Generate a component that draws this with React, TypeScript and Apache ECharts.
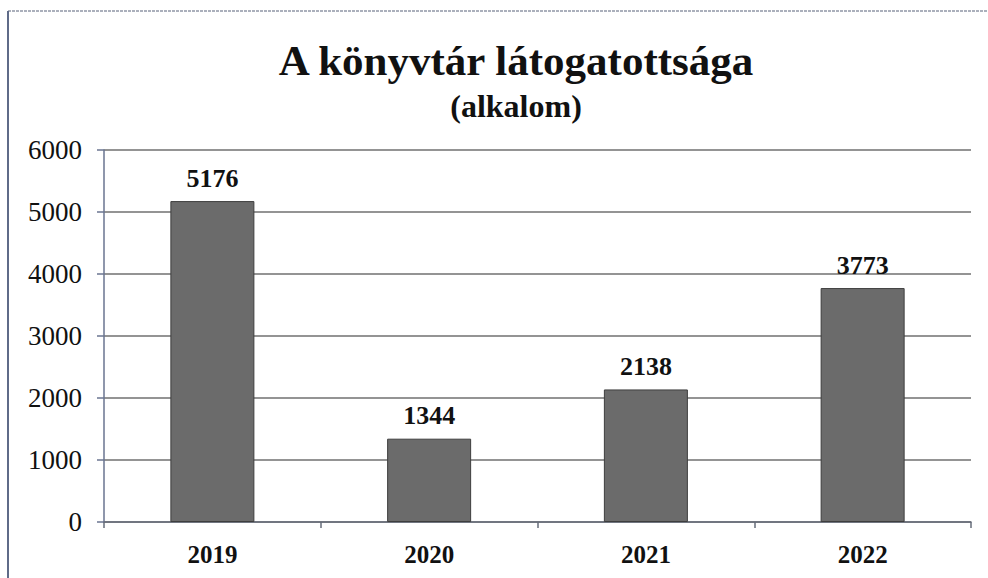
import React, { useEffect, useRef } from "react";
import * as echarts from "echarts";

const categories = ["2019", "2020", "2021", "2022"];
const visits = [5176, 1344, 2138, 3773];
const titleText = "A könyvtár látogatottsága";
const subtitleText = "(alkalom)";

const SERIF = "'Liberation Serif', 'Times New Roman', serif";

export default function App() {
  const ref = useRef<HTMLDivElement>(null);
  useEffect(() => {
    document.body.style.margin = "0";
    const chart = echarts.init(ref.current!, null, { renderer: "svg" });
    chart.setOption({
      animation: false,
      backgroundColor: "#ffffff",
      title: {
        text: titleText,
        subtext: subtitleText,
        left: 511,
        textAlign: "center",
        top: 34,
        itemGap: 8,
        textStyle: { fontFamily: SERIF, fontSize: 43, fontWeight: "bold", color: "#111" },
        subtextStyle: { fontFamily: SERIF, fontSize: 32, fontWeight: "bold", color: "#111" },
      },
      grid: { left: 104, right: 17, top: 150, bottom: 56 },
      xAxis: {
        type: "category",
        data: categories,
        axisLine: { lineStyle: { color: "#666c7a", width: 1.5 } },
        axisTick: { show: true, length: 6, lineStyle: { color: "#666c7a", width: 1.5 } },
        axisLabel: { margin: 20, fontFamily: SERIF, fontSize: 25, fontWeight: "bold", color: "#111" },
      },
      yAxis: {
        type: "value",
        min: 0,
        max: 6000,
        interval: 1000,
        axisLine: { show: true, lineStyle: { color: "#6a7590", width: 1.5 } },
        axisTick: { show: true, length: 7, lineStyle: { color: "#6a7590", width: 1.5 } },
        axisLabel: {
          margin: 22,
          fontFamily: SERIF,
          fontSize: 27,
          color: "#111",
          formatter: (v: number) => String(v),
        },
        splitLine: { show: true, lineStyle: { color: "#707070", width: 1.5 } },
      },
      series: [
        {
          type: "bar",
          data: visits,
          barWidth: 84,
          itemStyle: { color: "#6b6b6b", borderColor: "#3e3e3e", borderWidth: 1 },
          label: {
            show: true,
            position: "top",
            distance: 10,
            fontFamily: SERIF,
            fontSize: 26,
            fontWeight: "bold",
            color: "#111",
          },
        },
      ],
      graphic: [
        { type: "line", shape: { x1: 8, y1: 11, x2: 988, y2: 11 }, style: { stroke: "#9096a6", lineWidth: 1.5, lineDash: [3, 1] } },
        { type: "line", shape: { x1: 8, y1: 11, x2: 8, y2: 578 }, style: { stroke: "#5f6b88", lineWidth: 2 } },
      ],
    });
    return () => chart.dispose();
  }, []);
  return <div ref={ref} style={{ width: 988, height: 578 }} />;
}
